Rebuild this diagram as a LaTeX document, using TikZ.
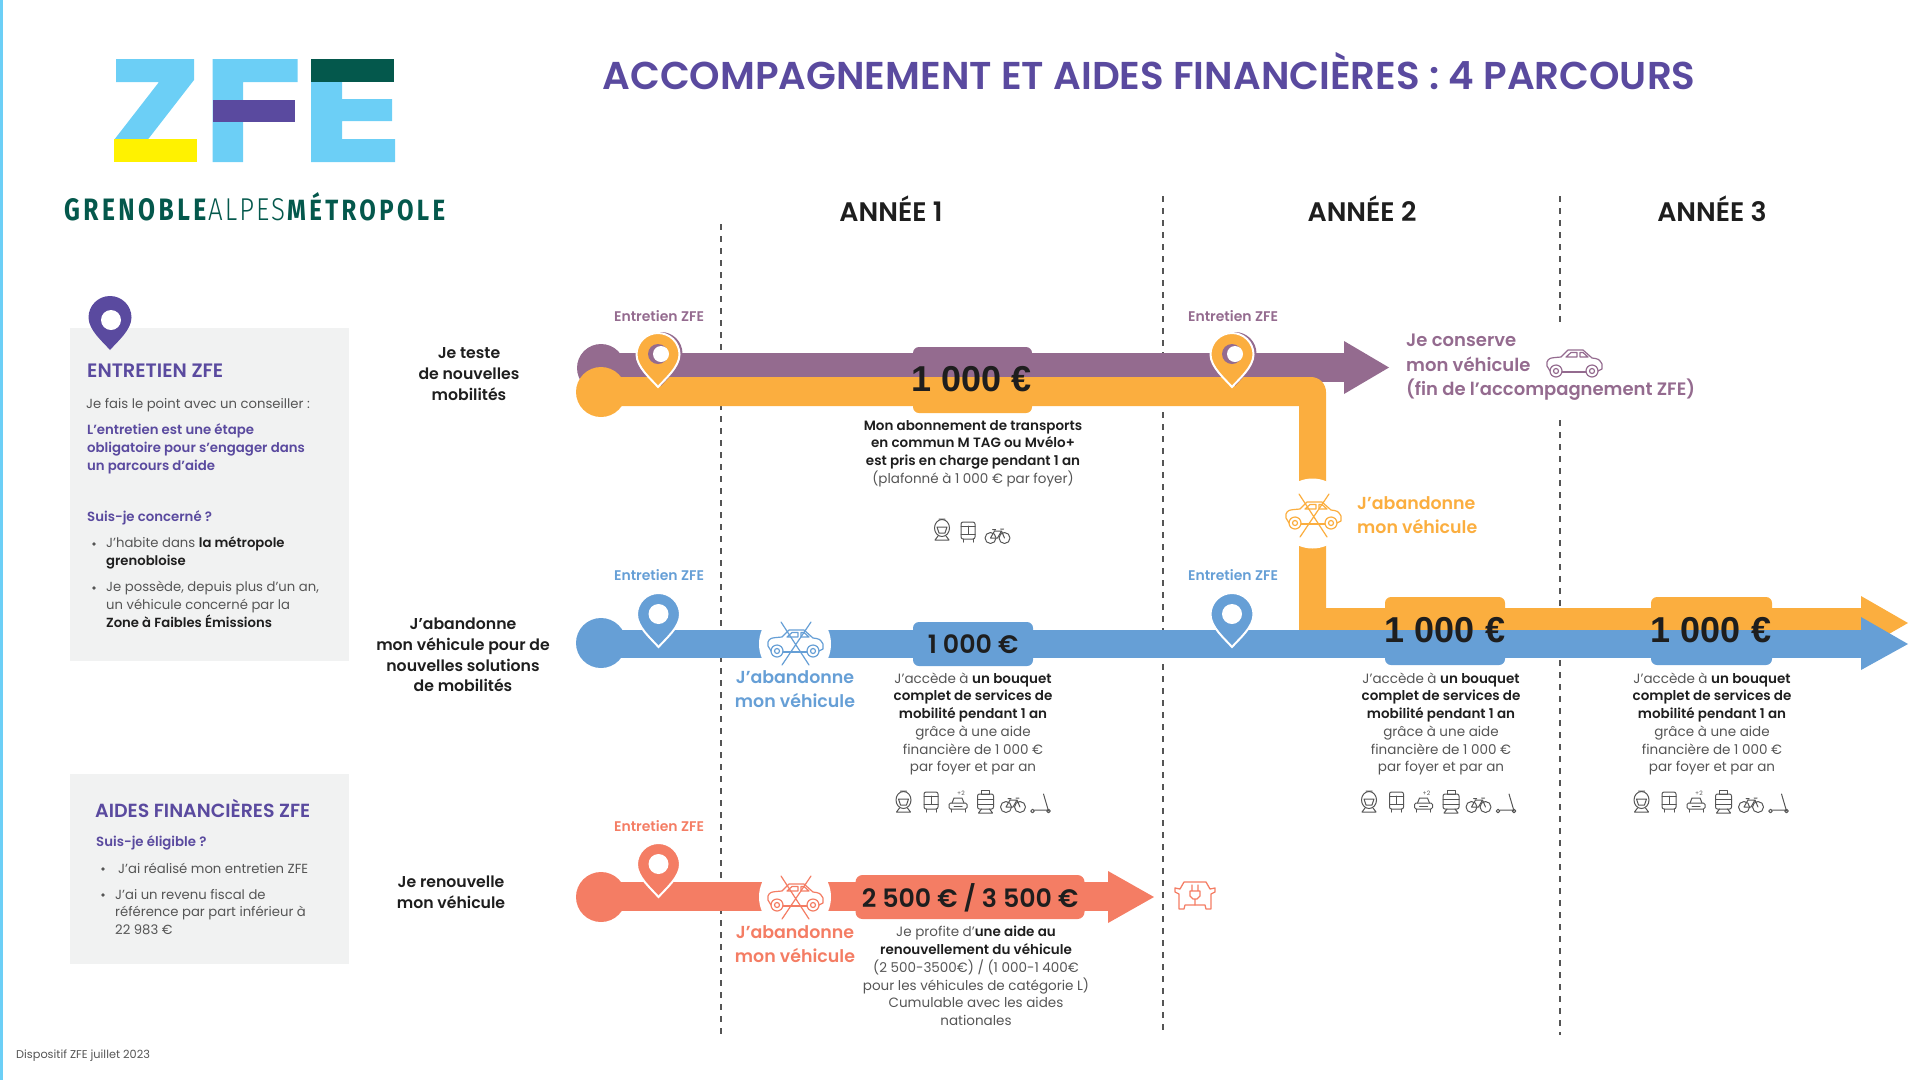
\documentclass[tikz,border=0pt]{standalone}
\usepackage{fontspec}
\setmainfont{Poppins}[BoldFont={Poppins SemiBold}]
\newfontfamily\logofont{Fira Sans}[LetterSpace=14]
\newfontfamily\logolight{Fira Sans Light}[LetterSpace=8]
\newfontfamily\chiffrefont{Liberation Sans}
\definecolor{zfeciel}{HTML}{6CCFF6}
\definecolor{zfevert}{HTML}{04584C}
\definecolor{zfejaune}{HTML}{FFF200}
\definecolor{zfeviolet}{HTML}{5A4A9F}
\definecolor{zfemauve}{HTML}{946B8F}
\definecolor{zfeorange}{HTML}{FBAE3F}
\definecolor{zfebleu}{HTML}{669FD6}
\definecolor{zfecorail}{HTML}{F47D64}
\definecolor{zfefond}{HTML}{F1F2F2}
\definecolor{zfegris}{HTML}{555555}
\definecolor{zfenoir}{HTML}{1E1E1E}
\tikzset{
  corps/.style={inner sep=0pt, align=center, text=zfegris, font=\fontsize{13.5}{17.7}\selectfont},
  encadre/.style={inner sep=0pt, align=left, text=zfegris, anchor=west, font=\fontsize{13.2}{17.9}\selectfont},
  ligne/.style={inner sep=0pt, align=center, text=zfenoir, font=\bfseries\fontsize{15.7}{20.8}\selectfont},
  etape/.style={inner sep=0pt, font=\bfseries\fontsize{14}{16}\selectfont},
  choix/.style={inner sep=0pt, align=center, font=\bfseries\fontsize{17.4}{24.5}\selectfont},
  annee/.style={inner sep=0pt, text=zfenoir, font=\bfseries\fontsize{26.8}{30}\selectfont},
  somme/.style={inner sep=0pt, text=zfenoir, font=\chiffrefont\bfseries\fontsize{36}{40}\selectfont},
  sommeb/.style={inner sep=0pt, text=zfenoir, font=\bfseries\fontsize{25.3}{28}\selectfont},
  pointille/.style={draw=zfegris, line width=1.2pt, dash pattern=on 6pt off 6pt},
  trait/.style={line width=1pt, line join=round, line cap=round},
  pin/.pic={
    \path[pic actions] (0,0) .. controls (-7,-8) and (-21.5,-20) .. (-21.5,-32.5)
      .. controls (-21.5,-44.4) and (-11.9,-54) .. (0,-54)
      .. controls (11.9,-54) and (21.5,-44.4) .. (21.5,-32.5)
      .. controls (21.5,-20) and (7,-8) .. (0,0) -- cycle;
  },
}
% icones (centrees sur leur premier argument)
\newcommand\voiture[2]{\begin{scope}[shift={(#1)}, draw=#2, trait, line width=1.2pt]
  \draw (-24,8) -- (-27,3) -- (-27,-1) .. controls (-25,-5) .. (-13,-6) -- (-6,-13) -- (9,-13) -- (18,-5)
    .. controls (25,-4) .. (28,1) -- (28,6) -- (24,8);
  \draw (-12,9) -- (12,9);
  \draw (-8,-6) -- (-3,-10.5) -- (3,-10.5) -- (3,-6) -- cycle (6,-10.5) -- (9,-10.5) -- (14,-6) -- (6,-6) -- cycle;
  \draw (-18,8) circle (6) (-18,8) circle (2.5) (18,8) circle (6) (18,8) circle (2.5);
\end{scope}}
\newcommand\voiturebarree[2]{\voiture{#1}{#2}
  \begin{scope}[shift={(#1)}, draw=#2, trait, line width=1.2pt]
  \draw (-14,-21) -- (14,22) (16,-21) -- (-13,22);
\end{scope}}
\newcommand\prise[2]{\begin{scope}[shift={(#1)}, draw=#2, trait, line width=1.3pt]
  \draw (-11,-13) -- (11,-13) -- (15,-6) -- (20,-7) -- (20,-3) -- (16,-1) -- (16,14) -- (11,14) -- (10,10) -- (-10,10) -- (-11,14) -- (-16,14) -- (-16,-1) -- (-20,-3) -- (-20,-7) -- (-15,-6) -- cycle;
  \draw (-3,-10) -- (-3,-4) (3,-10) -- (3,-4) (-5,-4) -- (5,-4) -- (5,1) -- (2,4) -- (-2,4) -- (-5,1) -- cycle (0,4) -- (0,10);
\end{scope}}
\newcommand\tramicone[1]{\begin{scope}[shift={(#1)}, draw=zfegris, trait]
  \draw (0,-2) ellipse (7.5 and 8.5);
  \draw (-3,-11) -- (3,-11) (-5,-3) -- (5,-3) -- (3,3) -- (-3,3) -- cycle;
  \draw (-4,6) -- (-7,10) -- (7,10) -- (4,6);
\end{scope}}
\newcommand\busicone[1]{\begin{scope}[shift={(#1)}, draw=zfegris, trait]
  \draw[rounded corners=2pt] (-7,-10) rectangle (7,7);
  \draw (-7,-6) -- (7,-6) (-7,2) -- (7,2) (0,-6) -- (0,2);
  \draw (-5,7) -- (-5,10) (5,7) -- (5,10);
\end{scope}}
\newcommand\partageicone[1]{\begin{scope}[shift={(#1)}, draw=zfegris, trait]
  \draw (-6,1) -- (-4,-4) -- (4,-4) -- (6,1);
  \draw[rounded corners=1.5pt] (-9,1) rectangle (9,7);
  \draw (-7,7) -- (-7,10) (7,7) -- (7,10) (-4,4) -- (4,4);
  \node[inner sep=0pt, text=zfegris, font=\fontsize{6}{6}\selectfont] (plusdeux) at (3,-9) {+2};
\end{scope}}
\newcommand\metroicone[1]{\begin{scope}[shift={(#1)}, draw=zfegris, trait]
  \draw[rounded corners=2pt] (-8,-8) rectangle (8,7);
  \draw (-4,-12) rectangle (4,-8) (-8,-3) -- (8,-3) (-8,2) -- (8,2);
  \draw (-4,7) -- (-7,11) -- (7,11) -- (4,7);
\end{scope}}
\newcommand\veloicone[1]{\begin{scope}[shift={(#1)}, draw=zfegris, trait]
  \draw (-7,3) circle (5.5) (7,3) circle (5.5);
  \draw (-7,3) -- (-3,-4) -- (4,-4) -- (0,3) -- cycle (4,-4) -- (7,3) (3,-6) -- (6,-6) (-5,-5.5) -- (-2,-5.5);
\end{scope}}
\newcommand\trottinette[1]{\begin{scope}[shift={(#1)}, draw=zfegris, trait]
  \draw (-8,7) circle (1.8) (8,7) circle (1.8);
  \draw (-6,6) -- (6,6) -- (8,7) -- (3,-10);
\end{scope}}
\newcommand\bouquet[2]{\begin{scope}[shift={(#1,#2)}]
  \tramicone{-68.5,0} \busicone{-41,0} \partageicone{-14,0} \metroicone{13.5,0} \veloicone{41,2} \trottinette{68.5,2}
\end{scope}}
\begin{document}
\begin{tikzpicture}[x=1pt, y=-1pt]
\useasboundingbox (0,0) rectangle (1920,1080);
\fill[zfeciel] (0,0) rectangle (2.5,1080);
% logo
\fill[zfeciel] (116,59) -- (194,59) -- (194,80) -- (147.5,140) -- (114,140) -- (159,82) -- (116,82) -- cycle;
\fill[zfejaune] (114,139) rectangle (197,162);
\fill[zfeciel] (212.5,59) rectangle (297.5,82) (212.5,59) rectangle (243,162);
\fill[zfeviolet] (212.5,100) rectangle (295,122);
\fill[zfeciel] (311,59) rectangle (342,162) (342,99) rectangle (392,121) (311,139) rectangle (395,162);
\fill[zfevert] (311,59) rectangle (394,82);
\node[inner sep=0pt, anchor=base west, text=zfevert] (grenoble) at (64,220) {\resizebox{142pt}{22pt}{\logofont\bfseries GRENOBLE}};
\node[inner sep=0pt, anchor=base west, text=zfevert] (alpes) at (208,220) {\resizebox{77pt}{22pt}{\logolight ALPES}};
\node[inner sep=0pt, anchor=base west, text=zfevert] (metropole) at (287,220) {\resizebox{158pt}{28pt}{\logofont\bfseries MÉTROPOLE}};
\node[inner sep=0pt, text=zfeviolet, font=\bfseries\fontsize{38.8}{44}\selectfont] (titre) at (1149,71) {ACCOMPAGNEMENT ET AIDES FINANCIÈRES : 4 PARCOURS};
% colonnes
\draw[pointille] (721,224) -- (721,1035);
\draw[pointille] (1163,196) -- (1163,1035);
\draw[pointille] (1560,196) -- (1560,325) (1560,420) -- (1560,1035);
\node[annee] (annee1) at (891,209) {ANNÉE 1};
\node[annee] (annee2) at (1362,209) {ANNÉE 2};
\node[annee] (annee3) at (1712,209) {ANNÉE 3};
% encadres
\fill[zfefond] (70,328) rectangle (349,661);
\fill[zfefond] (70,774) rectangle (349,964);
\pic[fill=zfeviolet] at (110,350) {pin};
\fill[white] (111,320) circle (10);
\node[encadre, text=zfeviolet, font=\bfseries\fontsize{19.4}{22}\selectfont] (entretien) at (87,371) {ENTRETIEN ZFE};
\node[encadre] (point) at (86,405) {Je fais le point avec un conseiller :};
\node[encadre, text=zfeviolet, font=\bfseries\fontsize{13.3}{17.9}\selectfont] (obligatoire) at (87,448.5) {L’entretien est une étape\\obligatoire pour s’engager dans\\un parcours d’aide};
\node[encadre, text=zfeviolet, font=\bfseries\fontsize{13.3}{17.9}\selectfont] (concerne) at (87,518) {Suis-je concerné ?};
\fill[zfegris] (94,544) circle (1.8) (94,588) circle (1.8);
\node[encadre] (habite) at (106,553) {J’habite dans \textcolor{zfenoir}{\textbf{la métropole}}\\\textcolor{zfenoir}{\textbf{grenobloise}}};
\node[encadre] (possede) at (106,604) {Je possède, depuis plus d'un an,\\un véhicule concerné par la\\\textcolor{zfenoir}{\textbf{Zone à Faibles Émissions}}};
\node[encadre, text=zfeviolet, font=\bfseries\fontsize{19}{22}\selectfont] (aides) at (95,808) {AIDES FINANCIÈRES ZFE};
\node[encadre, text=zfeviolet, font=\bfseries\fontsize{13.3}{17.9}\selectfont] (eligible) at (96,843) {Suis-je éligible ?};
\fill[zfegris] (103,869) circle (1.8) (103,895) circle (1.8);
\node[encadre] (realise) at (118,868) {J’ai réalisé mon entretien ZFE};
\node[encadre] (revenu) at (115,912) {J’ai un revenu fiscal de\\référence par part inférieur à\\22 983 €};
\node[inner sep=0pt, anchor=west, text=zfegris, font=\fontsize{11.3}{13}\selectfont] (dispositif) at (16,1056) {Dispositif ZFE juillet 2023};
% lignes
\node[ligne] (teste) at (469,374) {Je teste\\de nouvelles\\mobilités};
\node[ligne] (abandon) at (463,655) {J’abandonne\\mon véhicule pour de\\nouvelles solutions\\de mobilités};
\node[ligne] (renouvelle) at (451,892) {Je renouvelle\\mon véhicule};
% parcours mauve
\fill[zfemauve] (601,368) circle (24);
\fill[zfemauve] (601,353) rectangle (1344,382);
\fill[zfemauve] (1344,341) -- (1389,367.5) -- (1344,394) -- cycle;
\fill[zfemauve, rounded corners=6pt] (913,347) rectangle (1032,385);
% parcours orange
\fill[zfeorange] (601,392) circle (25);
\fill[zfeorange] (601,377) [rounded corners=15pt] -- (1326,377) [sharp corners] -- (1326,608) -- (1861,608) -- (1861,637) -- (1299,637) -- (1299,406) -- (601,406) -- cycle;
\fill[zfeorange, rounded corners=6pt] (913,385) rectangle (1032,413);
\fill[zfeorange] (1861,596) -- (1908,623) -- (1861,650) -- cycle;
\fill[zfeorange, rounded corners=6pt] (1385,597) rectangle (1505,640) (1651,597) rectangle (1772,640);
\fill[white] (1312.5,513.5) circle (35);
% parcours bleu
\fill[zfebleu] (601,643) circle (25);
\fill[zfebleu] (601,630) rectangle (1861,658);
\fill[zfebleu] (1861,617) -- (1908,644) -- (1861,670) -- cycle;
\fill[zfebleu, rounded corners=6pt] (913,622) rectangle (1033,666);
\fill[zfebleu, rounded corners=6pt] (1385,634) rectangle (1505,665) (1651,634) rectangle (1772,665);
\fill[white] (795,644) circle (36);
% parcours corail
\fill[zfecorail] (601,897) circle (25);
\fill[zfecorail] (601,882) rectangle (1108,911);
\fill[zfecorail] (1108,871) -- (1154,897) -- (1108,923) -- cycle;
\fill[zfecorail, rounded corners=7pt] (855.5,875) rectangle (1084.5,919);
\fill[white] (795,897) circle (36);
% entretiens
\pic[fill=zfemauve] at (661,386) {pin};
\pic[fill=zfeorange, draw=white, line width=2pt] at (658,387) {pin};
\fill[zfemauve] (658,354) circle (10);
\fill[white] (661,354) circle (8);
\pic[fill=zfemauve] at (1235,386) {pin};
\pic[fill=zfeorange, draw=white, line width=2pt] at (1232,387) {pin};
\fill[zfemauve] (1232,354) circle (10);
\fill[white] (1235,354) circle (8);
\pic[fill=zfebleu, draw=white, line width=2pt] at (658.5,647) {pin};
\fill[white] (658.5,614) circle (10);
\pic[fill=zfebleu, draw=white, line width=2pt] at (1232,647) {pin};
\fill[white] (1232,614) circle (10);
\pic[fill=zfecorail, draw=white, line width=2pt] at (658.5,897) {pin};
\fill[white] (658.5,864) circle (10);
\node[etape, text=zfemauve] (etape1) at (659,316) {Entretien ZFE};
\node[etape, text=zfemauve] (etape2) at (1233,316) {Entretien ZFE};
\node[etape, text=zfebleu] (etape3) at (659,575.5) {Entretien ZFE};
\node[etape, text=zfebleu] (etape4) at (1233,575.5) {Entretien ZFE};
\node[etape, text=zfecorail] (etape5) at (659,826) {Entretien ZFE};
% montants
\node[somme] (somme1) at (972,379) {1 000 €};
\node[sommeb] (somme2) at (973,644) {1 000 €};
\node[somme] (somme3) at (1445,630) {1 000 €};
\node[somme] (somme4) at (1711,630) {1 000 €};
\node[sommeb] (somme5) at (970,898) {2 500 € / 3 500 €};
% issues
\node[choix, anchor=west, text=zfemauve, align=left, font=\bfseries\fontsize{18}{24.5}\selectfont] (conserve) at (1406,367.5) {Je conserve\\mon véhicule\\(fin de l’accompagnement ZFE)};
\voiture{1574,363}{zfemauve}
\node[choix, anchor=west, text=zfeorange, align=left] (quitte1) at (1357,515) {J’abandonne\\mon véhicule};
\voiturebarree{1313,515}{zfeorange}
\node[choix, text=zfebleu] (quitte2) at (795,689) {J’abandonne\\mon véhicule};
\voiturebarree{795,643}{zfebleu}
\node[choix, text=zfecorail] (quitte3) at (795,944) {J’abandonne\\mon véhicule};
\voiturebarree{795,897}{zfecorail}
\prise{1195,895}{zfecorail}
% descriptions
\node[corps] (detail1) at (973,453.5) {\textcolor{zfenoir}{\textbf{Mon abonnement de transports}}\\\textcolor{zfenoir}{\textbf{en commun M TAG ou Mvélo+}}\\\textcolor{zfenoir}{\textbf{est pris en charge pendant 1 an}}\\(plafonné à 1 000 € par foyer)};
\tramicone{942,530} \busicone{968,532} \veloicone{997.5,535}
\node[corps] (detail2) at (973,724) {J’accède à \textcolor{zfenoir}{\textbf{un bouquet}}\\\textcolor{zfenoir}{\textbf{complet de services de}}\\\textcolor{zfenoir}{\textbf{mobilité pendant 1 an}}\\grâce à une aide\\financière de 1 000 €\\par foyer et par an};
\node[corps] (detail3) at (1441,724) {J’accède à \textcolor{zfenoir}{\textbf{un bouquet}}\\\textcolor{zfenoir}{\textbf{complet de services de}}\\\textcolor{zfenoir}{\textbf{mobilité pendant 1 an}}\\grâce à une aide\\financière de 1 000 €\\par foyer et par an};
\node[corps] (detail4) at (1712,724) {J’accède à \textcolor{zfenoir}{\textbf{un bouquet}}\\\textcolor{zfenoir}{\textbf{complet de services de}}\\\textcolor{zfenoir}{\textbf{mobilité pendant 1 an}}\\grâce à une aide\\financière de 1 000 €\\par foyer et par an};
\bouquet{972}{802}
\bouquet{1437.5}{802}
\bouquet{1710}{802}
\node[corps] (detail5) at (976,976) {Je profite d’\textcolor{zfenoir}{\textbf{une aide au}}\\\textcolor{zfenoir}{\textbf{renouvellement du véhicule}}\\(2 500-3500€) / (1 000-1 400€\\pour les véhicules de catégorie L)\\Cumulable avec les aides\\nationales};
\end{tikzpicture}
\end{document}
